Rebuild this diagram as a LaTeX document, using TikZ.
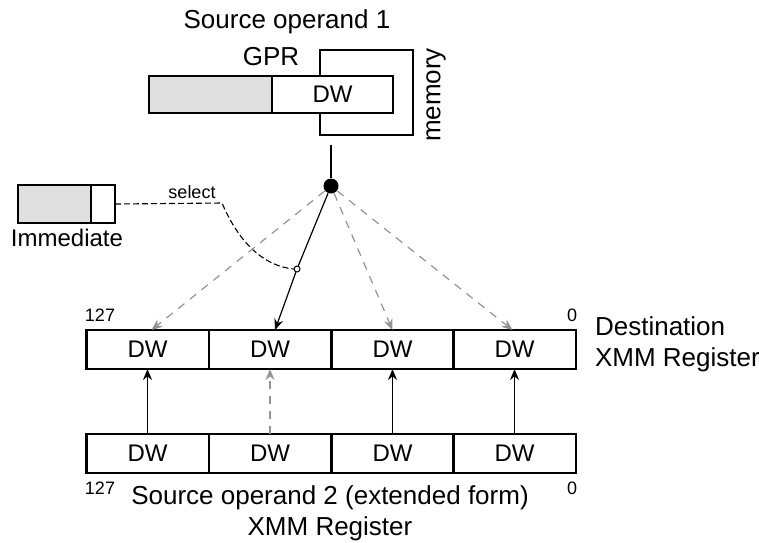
\documentclass[tikz,border=0pt]{standalone}
\usepackage{fontspec}
\setmainfont{Liberation Sans}
\usepackage{tikz}
\usetikzlibrary{arrows.meta,positioning,calc}

\tikzset{
  dwbox/.style={draw, line width=1.2pt, minimum width=61.2pt, minimum height=19.5pt, inner sep=0pt, outer sep=0pt, font=\fontsize{12}{14}\selectfont},
  graybox/.style={dwbox, fill=gray!25},
  lbl/.style={font=\fontsize{13}{15.5}\selectfont},
  bitno/.style={font=\fontsize{9}{10}\selectfont},
  grayarrow/.style={-{Stealth[length=5.5pt,width=4.5pt]}, gray!85, dash pattern=on 4pt off 3.5pt, line width=0.6pt},
  blackarrow/.style={-{Stealth[length=5.5pt,width=4.5pt]}, black, line width=0.6pt}
}

\begin{document}
\begin{tikzpicture}[x=0.5pt, y=-0.5pt]
    \useasboundingbox (0,0) rectangle (759,542);

    % Source operand 1: GPR or memory
    \node[lbl] (src1) at (287,22) {Source operand 1};
    \node[lbl] (gpr) at (271,57) {GPR};
    \node[graybox, minimum width=61.5pt, minimum height=18.5pt] (gprhi) at (210.5,94.5) {};
    \node[dwbox, minimum width=60.5pt, minimum height=18.5pt] (gprdw) at (332.5,94.5) {DW};
    \draw[line width=1.2pt] (320,76) -- (320,50) -- (413,50) -- (413,135) -- (320,135) -- (320,113);
    \node[lbl, rotate=90] (mem) at (436,95) {memory};

    % Selector
    \coordinate (memout) at (331,145);
    \node[circle, fill=black, inner sep=0pt, minimum size=7.5pt] (mux) at (331,186) {};
    \draw[line width=0.7pt] (memout) -- (mux);
    \node[circle, draw, fill=white, line width=0.5pt, inner sep=0pt, minimum size=3pt] (sw) at (297,269) {};

    % Immediate
    \node[graybox, minimum width=36.5pt, minimum height=19pt] (immhi) at (54.5,204) {};
    \node[dwbox, minimum width=12pt, minimum height=19pt] (immlo) at (103,204) {};
    \node[lbl, font=\fontsize{12}{14}\selectfont] (imm) at (67,238) {Immediate};
    \coordinate (bend) at (222,203);
    \draw[dash pattern=on 3pt off 1.5pt, line width=0.55pt] (immlo.east) -- (bend) .. controls (240,245) and (265,266) .. (sw.west);
    \node[bitno] (sel) at (192,192) {select};

    % Destination XMM register
    \node[dwbox] (d1) at (147.5,349.5) {DW};
    \node[dwbox] (d2) at (270,349.5) {DW};
    \node[dwbox] (d3) at (392.5,349.5) {DW};
    \node[dwbox] (d4) at (514.5,349.5) {DW};
    \node[bitno] (dhi) at (100,315) {127};
    \node[bitno] (dlo) at (572,315) {0};
    \node[lbl, align=left, anchor=west] (dst) at (588,344) {Destination\\XMM Register};

    % Source operand 2 XMM register
    \node[dwbox] (s1) at (147.5,453.5) {DW};
    \node[dwbox] (s2) at (270,453.5) {DW};
    \node[dwbox] (s3) at (392.5,453.5) {DW};
    \node[dwbox] (s4) at (514.5,453.5) {DW};
    \node[bitno] (shi) at (100,488) {127};
    \node[bitno] (slo) at (572,488) {0};
    \node[lbl, align=center] (src2) at (330,513) {Source operand 2 (extended form)\\XMM Register};

    % Broadcast from selector
    \draw[grayarrow] (mux) -- ([xshift=2pt]d1.north);
    \draw[grayarrow] (mux) -- (d3.north);
    \draw[grayarrow] (mux) -- ([xshift=-1pt]d4.north);
    \draw[line width=0.6pt] (mux) -- (sw);
    \draw[blackarrow] (sw) -- ([xshift=2.5pt]d2.north);

    % Pass-through from source 2
    \draw[blackarrow] (s1.north) -- (d1.south);
    \draw[grayarrow] (s2.north) -- (d2.south);
    \draw[blackarrow] (s3.north) -- (d3.south);
    \draw[blackarrow] (s4.north) -- (d4.south);
\end{tikzpicture}
\end{document}
